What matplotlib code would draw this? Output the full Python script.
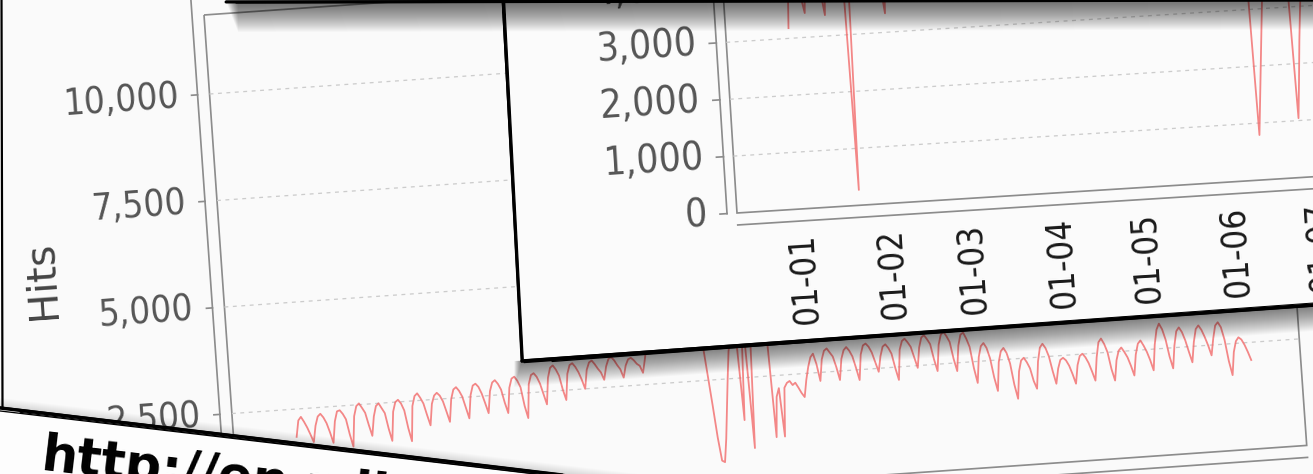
import numpy as np
import matplotlib.pyplot as plt
from matplotlib.transforms import Affine2D
from matplotlib.patches import Polygon, Rectangle

# --- data -------------------------------------------------------------
# back chart: daily hits, one row per week (Mon..Sun)
hits_year = [
    1850, 2230, 2310, 2190, 2050, 1880, 1700,
    2080, 2290, 2350, 2260, 2120, 1900, 1650,
    2150, 2380, 2400, 2310, 2180, 1820, 1530,
    2240, 2470, 2530, 2420, 2300, 2010, 1750,
    2200, 2440, 2500, 2380, 2260, 1890, 1600,
    2280, 2500, 2550, 2460, 2290, 1870, 1560,
    2380, 2610, 2670, 2560, 2420, 2150, 1900,
    2400, 2590, 2650, 2580, 2440, 2200, 1950,
    2480, 2700, 2750, 2660, 2520, 2260, 2000,
    2540, 2760, 2800, 2720, 2560, 2330, 2090,
    2600, 2800, 2850, 2760, 2620, 2310, 2060,
    2650, 2860, 2900, 2800, 2640, 2200, 1910,
    2700, 2910, 2950, 2860, 2700, 2450, 2200,
    2820, 3050, 3100, 3000, 2850, 2520, 2270,
    2880, 3080, 3120, 3030, 2900, 2720, 2500,
    2940, 3110, 3150, 3060, 2950, 2860, 2680,
    2990, 3160, 3200, 3120, 3000, 2900, 2700,
    2980, 3120, 3150, 3090, 3000, 2950, 2780,
    3100, 3450, 3700, 3650, 3550, 3450, 3350,
    3650, 3850, 3900, 3820, 3700, 3600, 3450,
    3700, 3900, 3950, 3880, 3750, 3650, 3500,
    3300, 2600, 1900, 1150, 600, 560, 1100,
    1800, 2500, 3150, 3450, 3500, 3400, 1510,
    3350, 3300, 840, 3300, 3400, 3350, 3450,
    3450, 3350, 3300, 1060, 2000, 2200, 1060,
    2200, 2310, 2350, 2250, 2300, 2180, 2050,
    1950, 2350, 2650, 2870, 2950, 2700, 2300,
    2800, 3000, 3050, 2950, 2850, 2600, 2290,
    2780, 2980, 3050, 2960, 2820, 2550, 2257,
    2850, 3060, 3100, 3020, 2880, 2650, 2419,
    2780, 3000, 3050, 2960, 2820, 2480, 2196,
    2900, 3100, 3150, 3060, 2950, 2700, 2447,
    2920, 3150, 3200, 3100, 2980, 2620, 2340,
    2950, 3180, 3250, 3140, 3000, 2600, 2307,
    2900, 3150, 3200, 3050, 2850, 2350, 1997,
    2600, 2850, 2920, 2800, 2550, 2100, 1777,
    2450, 2700, 2773, 2650, 2400, 1900, 1561,
    2200, 2450, 2510, 2400, 2250, 1950, 1765,
    2400, 2720, 2807, 2700, 2500, 2150, 1850,
    2200, 2400, 2445, 2380, 2250, 2050, 1819,
    2250, 2460, 2508, 2420, 2280, 2080, 1859,
    2400, 2750, 2833, 2700, 2500, 2100, 1829,
    2300, 2520, 2590, 2480, 2350, 2150, 1915,
    2400, 2650, 2724, 2600, 2450, 2250, 2004,
    2600, 2950, 3086, 2950, 2700, 2300, 2018,
    2550, 2880, 2966, 2850, 2650, 2380, 2128,
    2600, 2900, 2981, 2870, 2700, 2500, 2259,
    2650, 2950, 3022, 2900, 2600, 2100, 1763,
    2300, 2550, 2637, 2580, 2450, 2280, 2086,
]
back_ticks = [2500, 5000, 7500, 10000]

# front chart: daily hits from 2001-01-01, one row per week
hits_2001 = [
    3180, 4250, 4450, 4400, 4150, 3700, 3426,
    4300, 4550, 4600, 4500, 4250, 3750, 3367,
    4400, 4650, 4700, 4600, 4300, 3850, 3800,
    270, 4700, 4750, 4650, 4400, 3900, 3750,
    4550, 4750, 4800, 4700, 4450, 3800, 3333,
    4600, 4800, 4850, 4750, 4500, 3900, 3800,
    4650, 4850, 4900, 4800, 4550, 3950, 3850,
    4700, 4900, 4950, 4850, 4600, 3950, 3850,
    4650, 4850, 4900, 4800, 4550, 3900, 3800,
    4700, 4950, 5000, 4900, 4650, 4000, 3900,
    4750, 5000, 5050, 4950, 4700, 4050, 3900,
    4700, 4950, 5000, 4900, 4600, 3950, 3850,
    4650, 4900, 4950, 4850, 4550, 3900, 3800,
    4600, 4850, 4900, 4800, 4500, 3850, 3750,
    4550, 4800, 4850, 4750, 4450, 3800, 3700,
    4500, 4750, 4800, 4700, 4400, 3750, 3650,
    4450, 4700, 4750, 4650, 4350, 3700, 3600,
    4400, 4650, 4700, 4600, 4300, 3700, 3600,
    4350, 4600, 4650, 4550, 4250, 3650, 3550,
    4300, 4550, 4600, 4500, 4200, 3650, 3550,
    4250, 4500, 4550, 4450, 4150, 3600, 3500,
    4200, 4450, 4500, 4400, 4100, 3600, 3500,
    4150, 4400, 4450, 4350, 4050, 3550, 3450,
    3400, 790, 1400, 2000, 2600, 3250, 3450,
    4100, 4350, 4400, 4300, 4000, 3500, 3400,
    3300, 1042, 1700, 2400, 3000, 3500, 3400,
    4000, 4250, 4300, 4200, 3900, 3450, 3350,
]
front_ticks = [0, 1000, 2000, 3000, 4000]
month_starts = np.arange('2001-01', '2001-08', dtype='datetime64[M]')
month_days = (month_starts.astype('datetime64[D]') - np.datetime64('2001-01-01')).astype(int)
month_labels = [str(m)[2:4] + '-' + str(m)[5:7] for m in month_starts]

url_text = 'http://en.wikipedia.org/wiki/'

# --- canvas in pixel units ---------------------------------------------
W, H = 1313, 474
PT = 0.72  # points per pixel at dpi 100
fig = plt.figure(figsize=(W / 100, H / 100), dpi=100)
ax = fig.add_axes([0, 0, 1, 1])
ax.set_xlim(0, W)
ax.set_ylim(H, 0)
ax.axis('off')

RED = '#f26a6a'
FRAME = '#8c8c8c'
GRID = '#cccccc'
LABEL = '#555555'
TICKFONT = dict(fontfamily='DejaVu Sans', fontstretch='condensed')


def card(x0, y0, angle):
    # card-local pixels (u right, v down) -> canvas, tilted angle deg anticlockwise
    return Affine2D().rotate_deg(-angle).translate(x0, y0) + ax.transData


def rough_edge(p, q, strokes, z):
    for (a, b, lw) in strokes:
        ax.plot([p[0] + a[0], q[0] + b[0]], [p[1] + a[1], q[1] + b[1]],
                color='black', lw=lw * PT, solid_capstyle='round', zorder=z)


def soft_shadow(p, q, depth, z, alpha, sign=1, slide=0.0):
    for k in range(1, depth + 1):
        pts = [(p[0] - slide * k, p[1]), q, (q[0], q[1] + sign * k),
               (p[0] - slide * k, p[1] + sign * k)]
        ax.add_patch(Polygon(pts, closed=True, fc='black', ec='none',
                             alpha=alpha, zorder=z))


# --- back card: yearly hits --------------------------------------------
ax.add_patch(Rectangle((0, 0), W, H, fc='#fafafa', ec='none', zorder=0))
ax.plot([1.5, 2.5], [-5, 407], color='black', lw=2.2 * PT, zorder=1.5)

T1 = card(204, 15, 4.0)
PX_DAY1, PX_HIT1, U0_1, FW1, FH1 = 2.8, 0.04271, 63, 1070, 506.3
D1 = Affine2D().scale(PX_DAY1, -PX_HIT1).translate(U0_1, FH1) + T1
day_lo1, day_hi1 = -U0_1 / PX_DAY1, (FW1 - U0_1) / PX_DAY1

ax.add_patch(Rectangle((0, 0), FW1, FH1, transform=T1, fill=False,
                       ec=FRAME, lw=1.7 * PT, zorder=1))
ax.plot([-12, -12], [-40, FH1], transform=T1, color=FRAME, lw=1.7 * PT, zorder=1)
ax.plot([0, FW1], [FH1 + 12, FH1 + 12], transform=T1, color=FRAME, lw=1.7 * PT, zorder=1)
for t in back_ticks:
    ax.plot([day_lo1, day_hi1], [t, t], transform=D1, color=GRID,
            lw=1.3 * PT, dashes=(3, 3.5), zorder=1)
    v = FH1 - t * PX_HIT1
    ax.plot([-18, -12], [v, v], transform=T1, color=FRAME, lw=1.7 * PT, zorder=1)
    ax.text(-31, v, f'{t:,}', transform=T1, rotation=4.0, rotation_mode='anchor',
            ha='right', va='center', fontsize=26.5, color=LABEL, zorder=1, **TICKFONT)
ax.text(-180, 253, 'Hits', transform=T1, rotation=94.0, rotation_mode='anchor',
        ha='center', va='center', fontsize=29, color='#444444', zorder=1)
ax.plot(np.arange(len(hits_year)), hits_year, transform=D1, color=RED,
        lw=1.8 * PT, alpha=0.8, zorder=2)

# --- middle card: hits since 2001 ---------------------------------------
mid_bl, mid_br = (522, 361), (1330, 303.8)
soft_shadow(mid_bl, mid_br, 26, 3, 0.025, slide=0.3)
ax.add_patch(Polygon([(502, -20), mid_bl, mid_br, (1330, -20)], closed=True,
                     fc='#fbfbfb', ec='none', zorder=4))

T2 = card(737, 213, 3.6)
PX_DAY2, PX_HIT2, U0_2, FW2 = 2.86, 0.057, 63, 700
D2 = Affine2D().scale(PX_DAY2, -PX_HIT2).translate(U0_2, 0) + T2
day_lo2, day_hi2 = -U0_2 / PX_DAY2, (FW2 - U0_2) / PX_DAY2

ax.add_patch(Rectangle((0, -420), FW2, 420, transform=T2, fill=False,
                       ec=FRAME, lw=1.7 * PT, zorder=5))
ax.plot([-10, -10], [-420, 0], transform=T2, color=FRAME, lw=1.7 * PT, zorder=5)
ax.plot([0, FW2], [12, 12], transform=T2, color=FRAME, lw=1.7 * PT, zorder=5)
for t in front_ticks:
    if t:
        ax.plot([day_lo2, day_hi2], [t, t], transform=D2, color=GRID,
                lw=1.3 * PT, dashes=(3, 3.5), zorder=5)
    v = -t * PX_HIT2
    ax.plot([-17, -10], [v, v], transform=T2, color=FRAME, lw=1.7 * PT, zorder=5)
    ax.text(-30, v, f'{t:,}', transform=T2, rotation=3.6, rotation_mode='anchor',
            ha='right', va='center', fontsize=28, color=LABEL, zorder=5, **TICKFONT)
for d, lab in zip(month_days, month_labels):
    ax.text(U0_2 + d * PX_DAY2, 24, lab, transform=T2, rotation=93.6,
            rotation_mode='anchor', ha='right', va='center', fontsize=25,
            color='#1a1a1a', zorder=5, **TICKFONT)
ax.plot(np.arange(len(hits_2001)), hits_2001, transform=D2, color=RED,
        lw=1.8 * PT, alpha=0.8, zorder=5.5)

rough_edge((502, -20), mid_bl, [((0, 0), (0, 0), 2.8), ((1.5, 0), (1.2, -2), 1.2),
                                  ((-1, 0), (-0.5, 1), 1.0)], 6)
rough_edge(mid_bl, mid_br, [((0, 0), (0, 0), 3.4), ((2, 1.5), (0, 1.2), 1.4),
                            ((0, -1), (0, -2), 1.0), ((30, 0.5), (0, -0.8), 1.2)], 6)

# --- top card: only its lower rim shows ---------------------------------
top_bl, top_br = (226, 2), (1330, -0.5)
soft_shadow(top_bl, top_br, 30, 6.5, 0.022, slide=-0.4)
ax.add_patch(Polygon([(222, -40), top_bl, top_br, (1330, -40)], closed=True,
                     fc='white', ec='none', zorder=7))
rough_edge(top_bl, top_br, [((0, 0), (0, 0), 3.0), ((10, 1), (0, 1.5), 1.2),
                            ((0, -1), (0, 0.5), 1.0)], 7.5)

# --- bottom card with the page address ----------------------------------
bot_l, bot_r = (-10, 406.8), (1330, 406.8 + 1340 * 0.1192)
soft_shadow(bot_l, bot_r, 10, 8, 0.015, sign=-1)
ax.add_patch(Polygon([bot_l, bot_r, (1330, 700), (-10, 700)], closed=True,
                     fc='#fdfdfd', ec='none', zorder=9))
rough_edge(bot_l, bot_r, [((0, 0), (0, 0), 3.4), ((0, 3), (0, 1), 1.3),
                          ((30, 5.5), (0, 2), 1.1), ((0, -1), (0, -0.5), 1.2)], 9.5)
ax.text(40, 470, url_text, rotation=-6.8, rotation_mode='anchor', ha='left',
        va='baseline', fontsize=36.5, fontweight='bold', color='black', zorder=10)

fig.savefig('out.png', dpi=100)
